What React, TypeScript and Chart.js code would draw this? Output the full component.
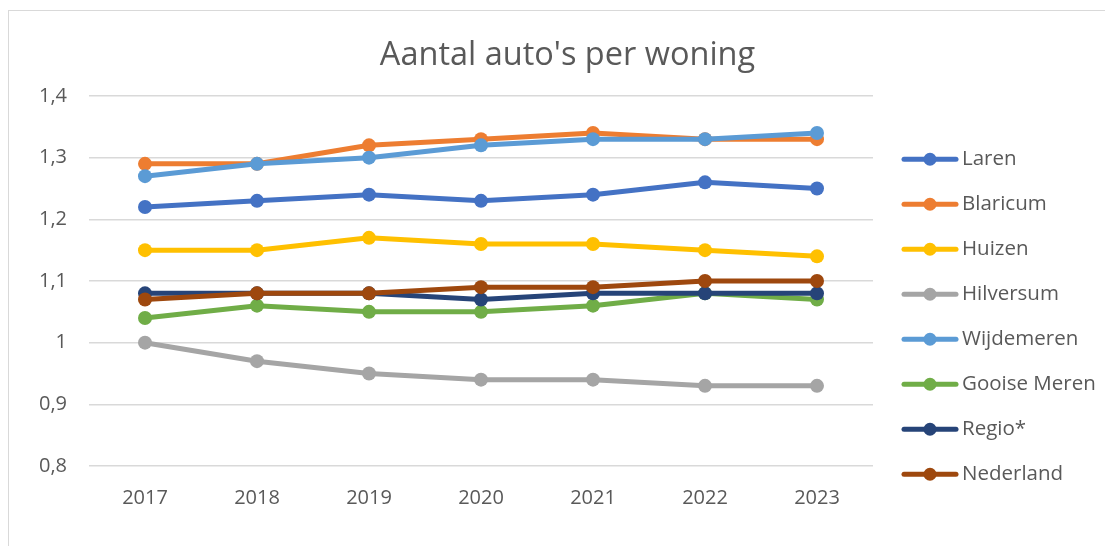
import React, { useEffect, useRef } from 'react';
import { Chart, registerables } from 'chart.js';

Chart.register(...registerables);

const years = ['2017', '2018', '2019', '2020', '2021', '2022', '2023'];
const laren = [1.22, 1.23, 1.24, 1.23, 1.24, 1.26, 1.25];
const blaricum = [1.29, 1.29, 1.32, 1.33, 1.34, 1.33, 1.33];
const huizen = [1.15, 1.15, 1.17, 1.16, 1.16, 1.15, 1.14];
const hilversum = [1.0, 0.97, 0.95, 0.94, 0.94, 0.93, 0.93];
const wijdemeren = [1.27, 1.29, 1.3, 1.32, 1.33, 1.33, 1.34];
const gooiseMeren = [1.04, 1.06, 1.05, 1.05, 1.06, 1.08, 1.07];
const regio = [1.08, 1.08, 1.08, 1.07, 1.08, 1.08, 1.08];
const nederland = [1.07, 1.08, 1.08, 1.09, 1.09, 1.1, 1.1];

const seriesNames = ['Laren', 'Blaricum', 'Huizen', 'Hilversum', 'Wijdemeren', 'Gooise Meren', 'Regio*', 'Nederland'];
const seriesData = [laren, blaricum, huizen, hilversum, wijdemeren, gooiseMeren, regio, nederland];
const seriesColors = ['#4472C4', '#ED7D31', '#FFC000', '#A5A5A5', '#5B9BD5', '#70AD47', '#264478', '#9E480E'];

const titleText = "Aantal auto's per woning";
const yMin = 0.8;
const yMax = 1.4;
const yStep = 0.1;

const FONT = "'Open Sans'";
const TEXT = '#595959';
const CANVAS_W = 1117;
const CANVAS_H = 535;
const LEG_FONT = 20.5;
const LEG_PAD = 24.5;
const AREA_RIGHT = 864;
const LINE_START = 29; // legend line start, relative to plot right edge
const TEXT_START = 89; // legend text start, relative to plot right edge
const LEG_BOX = TEXT_START - LEG_PAD - LEG_FONT / 2;

const titleCenterPlugin = {
  id: 'titleCenter',
  afterLayout(chart: any) {
    const t = chart.titleBlock;
    if (t) {
      t.left = 0;
      t.right = CANVAS_W;
      t.width = CANVAS_W;
    }
  },
};

const legendLinePlugin = {
  id: 'legendLine',
  afterDraw(chart: any) {
    const legend = chart.legend;
    if (!legend || !legend.legendHitBoxes) return;
    const ctx = chart.ctx;
    ctx.save();
    legend.legendItems.forEach((item: any, i: number) => {
      const hb = legend.legendHitBoxes[i];
      const color = seriesColors[item.datasetIndex];
      const cy = hb.top + hb.height / 2;
      const x0 = hb.left + (LINE_START - LEG_PAD) + 2;
      const x1 = x0 + 52;
      ctx.strokeStyle = color;
      ctx.lineWidth = 5;
      ctx.lineCap = 'round';
      ctx.beginPath();
      ctx.moveTo(x0, cy);
      ctx.lineTo(x1, cy);
      ctx.stroke();
      ctx.fillStyle = color;
      ctx.beginPath();
      ctx.arc((x0 + x1) / 2, cy, 6.5, 0, Math.PI * 2);
      ctx.fill();
    });
    ctx.restore();
  },
};

export default function App() {
  const ref = useRef<HTMLCanvasElement>(null);

  useEffect(() => {
    document.documentElement.style.overflow = 'hidden';
    document.body.style.overflow = 'hidden';
    const canvas = ref.current!;
    const mctx = canvas.getContext('2d')!;
    mctx.font = `${LEG_FONT}px ${FONT}`;
    const maxText = Math.max(...seriesNames.map((n) => mctx.measureText(n).width));
    const legendWidth = LEG_PAD + LEG_BOX + LEG_FONT / 2 + maxText + 10;
    const padRight = Math.max(0, CANVAS_W - AREA_RIGHT - legendWidth);

    const chart = new Chart(canvas, {
      type: 'line',
      data: {
        labels: years,
        datasets: seriesNames.map((name, i) => ({
          label: name,
          data: seriesData[i],
          borderColor: seriesColors[i],
          backgroundColor: seriesColors[i],
          borderWidth: 5,
          pointRadius: 7,
          pointBorderWidth: 0,
          pointBackgroundColor: seriesColors[i],
          pointHoverRadius: 7,
          tension: 0,
          borderCapStyle: 'round',
          borderJoinStyle: 'round',
          order: seriesNames.length - i,
        })),
      },
      options: {
        responsive: false,
        animation: false,
        layout: { padding: { top: 0, left: 0, right: padRight, bottom: 37 } },
        plugins: {
          title: {
            display: true,
            text: titleText,
            color: TEXT,
            font: { family: FONT, size: 32.5, weight: 'normal' },
            padding: { top: 25, bottom: 21 },
          },
          legend: {
            display: true,
            position: 'right',
            align: 'end',
            labels: {
              boxWidth: LEG_BOX,
              boxHeight: 18,
              padding: LEG_PAD,
              color: TEXT,
              font: { family: FONT, size: LEG_FONT },
              generateLabels: (c: any) =>
                Chart.defaults.plugins.legend.labels.generateLabels(c).map((l: any) => ({
                  ...l,
                  fillStyle: 'rgba(0,0,0,0)',
                  strokeStyle: 'rgba(0,0,0,0)',
                  lineWidth: 0,
                })),
              sort: (a: any, b: any) => a.datasetIndex - b.datasetIndex,
            },
          },
          tooltip: { enabled: false },
        },
        scales: {
          x: {
            offset: true,
            afterFit: (s: any) => {
              s.height = 43;
            },
            grid: { display: false, drawTicks: false },
            border: { display: false },
            ticks: { color: TEXT, font: { family: FONT, size: 20 }, padding: 20, maxRotation: 0 },
          },
          y: {
            min: yMin,
            max: yMax,
            afterFit: (s: any) => {
              s.width = 80;
            },
            grid: { color: '#D9D9D9', lineWidth: 1.5, drawTicks: false },
            border: { display: false },
            ticks: {
              stepSize: yStep,
              color: TEXT,
              font: { family: FONT, size: 20 },
              padding: 22,
              callback: (v: any) => Number(v).toLocaleString('nl-NL'),
            },
          },
        },
      },
      plugins: [titleCenterPlugin, legendLinePlugin],
    });
    return () => chart.destroy();
  }, []);

  return (
    <div
      style={{
        marginTop: 2,
        width: 1118,
        height: 560,
        borderTop: '1px solid #D9D9D9',
        borderLeft: '1px solid #D9D9D9',
        boxSizing: 'border-box',
      }}
    >
      <canvas ref={ref} width={CANVAS_W} height={CANVAS_H} style={{ display: 'block' }} />
    </div>
  );
}
